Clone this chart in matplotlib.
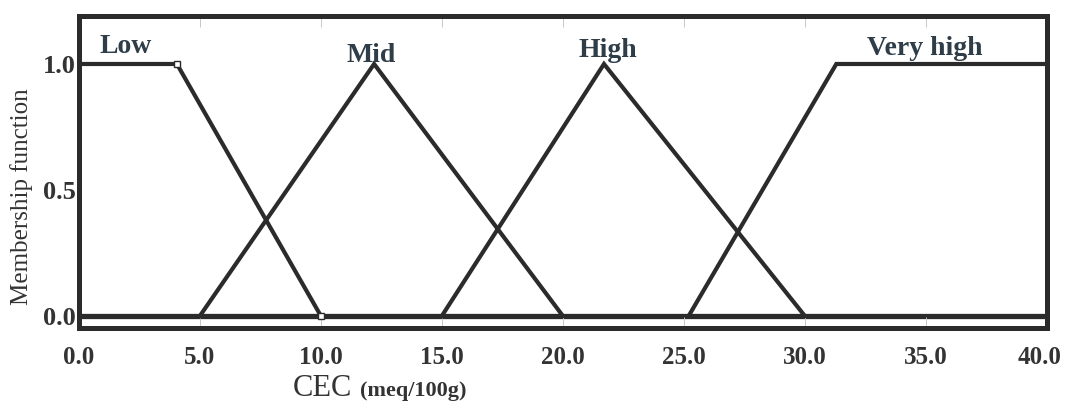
import matplotlib.pyplot as plt
import matplotlib.transforms as mtransforms

# Membership functions for CEC classes (x = CEC, y = membership)
low_x = [0.0, 4.05, 10.0]
low_y = [1.0, 1.0, 0.0]
mid_x = [5.0, 12.2, 20.0]
mid_y = [0.0, 1.0, 0.0]
high_x = [15.0, 21.7, 30.0]
high_y = [0.0, 1.0, 0.0]
vhigh_x = [25.2, 31.3, 40.0]
vhigh_y = [0.0, 1.0, 1.0]

class_names = ['Low', 'Mid', 'High', 'Very high']
name_x = [1.95, 12.07, 21.86, 34.96]
name_y = [1.07, 1.035, 1.055, 1.062]

x_ticks = [0, 5, 10, 15, 20, 25, 30, 35, 40]
x_ticklabels = ['0.0', '5.0', '10.0', '15.0', '20.0', '25.0', '30.0', '35.0', '40.0']
y_ticks = [0.0, 0.5, 1.0]
y_ticklabels = ['0.0', '0.5', '1.0']

plt.rcParams['font.family'] = ['Liberation Serif', 'DejaVu Serif']
dark = '#2b2b2b'
label_col = '#2e3d48'

fig = plt.figure(figsize=(10.66, 4.03), dpi=100)
ax = fig.add_axes([0.074, 0.186, 0.908, 0.774])

ax.plot(low_x, low_y, color=dark, lw=3.0, solid_joinstyle='miter',
        marker='s', markersize=4, mfc='white', mec=dark, mew=1, markevery=[1, 2])
ax.plot(mid_x, mid_y, color=dark, lw=3.0, solid_joinstyle='miter')
ax.plot(high_x, high_y, color=dark, lw=3.0, solid_joinstyle='miter')
ax.plot(vhigh_x, vhigh_y, color=dark, lw=3.0, solid_joinstyle='miter')

# baseline at zero membership
ax.axhline(0.0, color=dark, lw=3.8, zorder=1)

for name, tx, ty in zip(class_names, name_x, name_y):
    ax.text(tx, ty, name, ha='center', va='center', fontsize=20,
            fontweight='bold', color=label_col)

ax.set_xlim(0, 40)
ax.set_ylim(-0.048, 1.19)
ax.set_xticks(x_ticks)
ax.set_xticklabels(x_ticklabels, fontsize=18, fontweight='bold', color='#333333')
ax.set_yticks(y_ticks)
ax.set_yticklabels(y_ticklabels, fontsize=19, fontweight='bold', color='#333333')
ax.tick_params(axis='x', direction='in', length=8, width=0.7, color='#c8c8c8',
               top=True, pad=13)
ax.tick_params(axis='y', length=0, pad=2)

# nudge the last x label inwards so it stays on the canvas
last = ax.get_xticklabels()[-1]
last.set_transform(last.get_transform() +
                   mtransforms.ScaledTranslation(-5 / 72, 0, fig.dpi_scale_trans))

for sp in ax.spines.values():
    sp.set_linewidth(3.6)
    sp.set_color(dark)

ax.set_ylabel('Membership function', fontsize=18, color='#333333')
ax.yaxis.set_label_coords(-0.047, 0.42)

fig.text(293 / 1066, 1 - 396 / 403, 'CEC', fontsize=22, color='#333333',
         ha='left', va='baseline')
fig.text(360 / 1066, 1 - 396 / 403, '(meq/100g)', fontsize=16, fontweight='bold',
         color='#333333', ha='left', va='baseline')

fig.savefig('out.png', dpi=100)
